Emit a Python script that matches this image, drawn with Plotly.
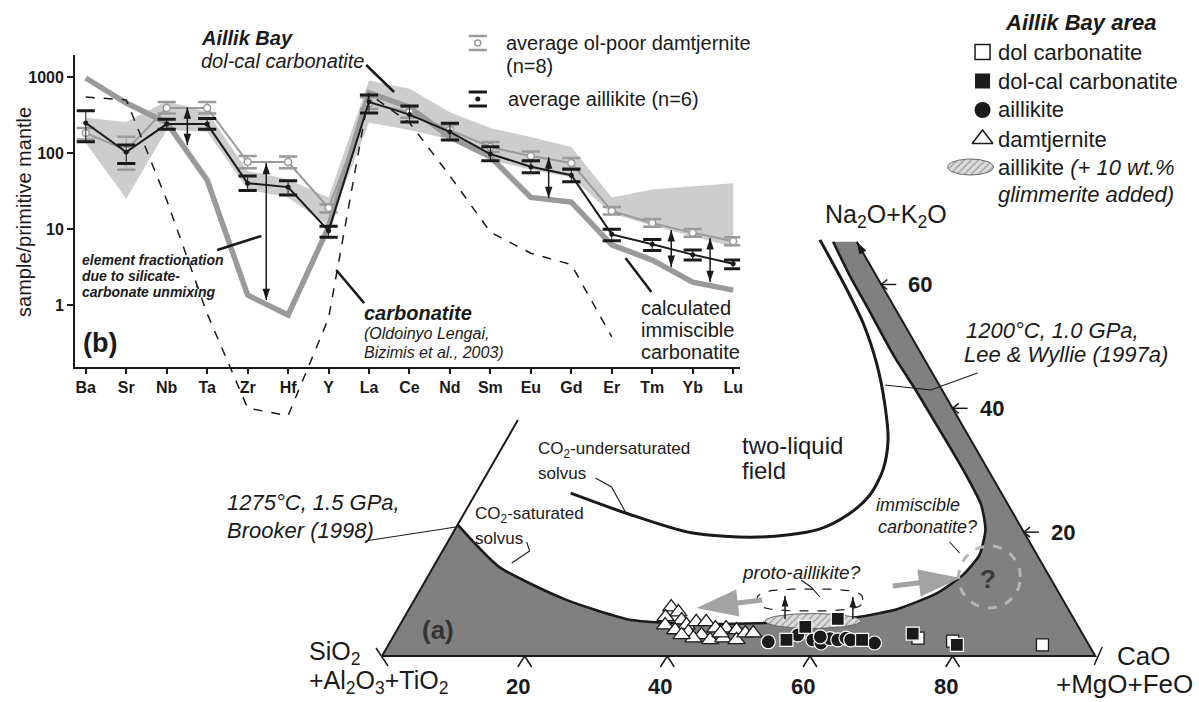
import math
import numpy as np
import plotly.graph_objects as go

W, H = 1199, 702
FONT = "Liberation Sans, Arial, Helvetica, sans-serif"
INK = "#1a1a1a"
GREY_FIELD = "#808080"
GREY_LINE = "#9a9a9a"
GREY_SHADE = "#cdcdcd"

# ---------------- (b) spider diagram data (sample / primitive mantle) ----------------
elements = ["Ba", "Sr", "Nb", "Ta", "Zr", "Hf", "Y", "La", "Ce", "Nd", "Sm", "Eu", "Gd", "Er", "Tm", "Yb", "Lu"]
aillikite_avg = [248, 103, 240, 240, 40, 35.6, 9.5, 470, 320, 190, 97, 66, 51, 8.5, 6.3, 4.6, 3.5]
aillikite_hi = [360, 127, 279, 285, 50, 43, 10.9, 580, 415, 246, 121, 79, 61, 9.9, 7.3, 5.3, 3.9]
aillikite_lo = [141, 73, 205, 205, 32, 28, 7.8, 335, 255, 148, 79, 55, 42, 7.0, 5.2, 3.9, 3.0]
damtjernite_avg = [183, 109, 390, 390, 76, 76, 18.9, 455, 345, 200, 120, 91, 74, 17.3, 12, 8.9, 6.9]
damtjernite_hi = [213, 163, 470, 470, 91, 90, 21, 540, 410, 235, 140, 105, 86, 19.5, 13.5, 10, 7.8]
damtjernite_lo = [150, 60, 330, 330, 63, 63, 16.5, 380, 290, 170, 103, 78, 63, 15.5, 10.7, 7.9, 6.1]
range_hi = [290, 255, 480, 350, 58, 45, 26, 900, 700, 345, 213, 162, 120, 26, 33, 36, 40]
range_lo = [135, 25, 200, 190, 33, 26, 11, 250, 200, 150, 81, 60, 48, 16, 11, 8, 5.8]
calc_carbonatite = [970, 455, 250, 44, 1.35, 0.74, 10.6, 620, 400, 162, 89, 26, 22.6, 6.2, 3.9, 2.0, 1.57]
lengai_carbonatite = [545, 500, 24, 0.77, 0.044, 0.035, 0.67, 600, 250, 50, 9.1, 4.8, 3.4, 0.38, None, None, None]
# double arrows: (element position, upper value, lower value)
spider_arrows = [(2.51, 400, 127), (4.46, 74, 1.16), (11.44, 88, 25.5), (14.47, 9.7, 3.16), (15.43, 7.6, 2.0)]

# ---------------- (a) ternary data: C = CaO+MgO+FeO, N = Na2O+K2O (fractions) ----------------
damt_C = [0.366, 0.380, 0.366, 0.391, 0.372, 0.402, 0.413, 0.427, 0.390, 0.410, 0.445,
          0.460, 0.476, 0.431, 0.447, 0.464, 0.484, 0.491, 0.502, 0.422, 0.456, 0.403]
damt_N = [0.079, 0.071, 0.063, 0.058, 0.050, 0.050, 0.055, 0.055, 0.042, 0.039, 0.045,
          0.045, 0.042, 0.034, 0.026, 0.029, 0.026, 0.037, 0.037, 0.029, 0.037, 0.034]
aill_C = [0.530, 0.591, 0.605, 0.614, 0.626, 0.636, 0.644, 0.680, 0.566, 0.599]
aill_N = [0.023, 0.026, 0.021, 0.028, 0.026, 0.029, 0.026, 0.021, 0.034, 0.031]
dolcal_C = [0.554, 0.570, 0.609, 0.660, 0.726, 0.797]
dolcal_N = [0.026, 0.047, 0.060, 0.026, 0.036, 0.018]
dol_C = [0.737, 0.788, 0.917]
dol_N = [0.029, 0.024, 0.018]
# CO2-saturated solvus (Brooker 1998) - boundary of grey one-liquid field
sat_C = [0.0, 0.092, 0.212, 0.321, 0.418, 0.501, 0.582, 0.636, 0.685, 0.728, 0.749, 0.756,
         0.744, 0.718, 0.673, 0.632, 0.583, 0.533, 0.474, 0.403, 0.347, 0.298]
sat_N = [0.212, 0.144, 0.091, 0.058, 0.052, 0.053, 0.058, 0.063, 0.076, 0.102, 0.131, 0.163,
         0.204, 0.244, 0.292, 0.333, 0.381, 0.430, 0.486, 0.559, 0.616, 0.669]
# CO2-undersaturated solvus (Lee & Wyllie 1997a)
unsat_C = [0.278, 0.349, 0.408, 0.459, 0.502, 0.535, 0.552, 0.554, 0.539, 0.509, 0.431, 0.334, 0.226, 0.133]
unsat_N = [0.672, 0.599, 0.535, 0.470, 0.406, 0.349, 0.301, 0.260, 0.228, 0.204, 0.192, 0.199, 0.231, 0.263]
edge_top_N = 0.669
left_edge_top_N = 0.381
bottom_ticks = [20, 40, 60, 80]
right_ticks = [20, 40, 60]
glim_center = (0.576, 0.0565)
proto_center = (0.5548, 0.0905)
imm_center = (0.7879, 0.1276)

# ---------------- geometry helpers ----------------
T_X0, T_Y0, T_SIDE = 383, 656, 715          # pixel position of SiO2 corner, side length
PX = 1.0 / T_SIDE
S3 = math.sqrt(3) / 2


def tern(C, N):
    C = np.asarray(C, dtype=float)
    N = np.asarray(N, dtype=float)
    return C + N / 2.0, N * S3


fig = go.Figure()
XY = dict(xaxis="x", yaxis="y", hoverinfo="skip", showlegend=False)
SP = dict(xaxis="x2", yaxis="y2", hoverinfo="skip", showlegend=False)
PXA = dict(xaxis="x4", yaxis="y4", hoverinfo="skip", showlegend=False)

# ===== ternary =====
gx, gy = tern([0] + sat_C + [1 - edge_top_N, 1, 0], [0] + sat_N + [edge_top_N, 0, 0])
fig.add_trace(go.Scatter(x=gx, y=gy, fill="toself", fillcolor=GREY_FIELD, mode="lines",
                         line=dict(width=0), **XY))
sx, sy = tern(sat_C, sat_N)
fig.add_trace(go.Scatter(x=sx, y=sy, mode="lines", line=dict(color=INK, width=2.6, shape="spline", smoothing=0.6), **XY))
ux, uy = tern(unsat_C, unsat_N)
fig.add_trace(go.Scatter(x=ux, y=uy, mode="lines", line=dict(color=INK, width=3, shape="spline", smoothing=0.8), **XY))
# triangle edges
ex, ey = tern([0, 1, 1 - edge_top_N, None, 0, 0], [0, 0, edge_top_N, None, 0, left_edge_top_N])
fig.add_trace(go.Scatter(x=ex, y=ey, mode="lines", line=dict(color=INK, width=2), connectgaps=False, **XY))
# arrow head at the top of the Na2O+K2O edge (pointing along the edge)
ahx, ahy = tern(1 - edge_top_N, edge_top_N)
fig.add_trace(go.Scatter(x=[float(ahx)], y=[float(ahy)], mode="markers",
                         marker=dict(symbol="arrow", size=13, angle=-30, color=INK), **XY))

# ticks
tx, ty = [], []
for t in bottom_ticks:
    bx, by = tern(t / 100, 0)
    tx += [bx - 7 * PX, bx, bx + 7 * PX, None]
    ty += [by - 11 * PX, by, by - 11 * PX, None]
for t in right_ticks:
    rx, ry = tern(1 - t / 100, t / 100)
    tx += [rx + 6 * PX, rx, rx + 6 * PX, None, rx, rx + 15 * PX, None]
    ty += [ry + 5 * PX, ry, ry - 5 * PX, None, ry, ry, None]
c0x, c0y = tern(0, 0)
tx += [c0x - 6 * PX, c0x + 6 * PX, None]
ty += [c0y + 8 * PX, c0y - 10 * PX, None]
c1x, c1y = tern(1, 0)
tx += [c1x - 1 * PX, c1x + 7 * PX, None]
ty += [c1y - 9 * PX, c1y + 9 * PX, None]
fig.add_trace(go.Scatter(x=tx, y=ty, mode="lines", line=dict(color=INK, width=1.5), connectgaps=False, **XY))

th = np.linspace(0, 2 * np.pi, 90)
# hatched aillikite + glimmerite field
hx0, hy0 = tern(*glim_center)
fig.add_trace(go.Scatter(x=hx0 + 48 * PX * np.cos(th), y=hy0 + 7.5 * PX * np.sin(th), mode="lines",
                         fill="toself", fillcolor="#d8d8d8",
                         fillpattern=dict(shape="/", fgcolor="#555555", bgcolor="#dcdcdc", size=5, solidity=0.25),
                         line=dict(color="#666666", width=1), **XY))
# proto-aillikite dashed outline
px0, py0 = tern(*proto_center)
pe = 2 / 3.0
fig.add_trace(go.Scatter(x=px0 + 53 * PX * np.sign(np.cos(th)) * np.abs(np.cos(th)) ** pe,
                         y=py0 + 11 * PX * np.sign(np.sin(th)) * np.abs(np.sin(th)) ** pe,
                         mode="lines", line=dict(color=INK, width=1.2, dash="dash"), **XY))
# immiscible carbonatite dashed circle
ix0, iy0 = tern(*imm_center)
fig.add_trace(go.Scatter(x=ix0 + 31 * PX * np.cos(th), y=iy0 + 31 * PX * np.sin(th), mode="lines",
                         line=dict(color="#b5b5b5", width=3, dash="dash"), **XY))

# samples
x_, y_ = tern(damt_C, damt_N)
fig.add_trace(go.Scatter(x=x_, y=y_, mode="markers",
                         marker=dict(symbol="triangle-up", size=15, color="white", line=dict(color=INK, width=1.3)), **XY))
x_, y_ = tern(dol_C, dol_N)
fig.add_trace(go.Scatter(x=x_, y=y_, mode="markers",
                         marker=dict(symbol="square", size=12, color="white", line=dict(color=INK, width=1.3)), **XY))
x_, y_ = tern(aill_C, aill_N)
fig.add_trace(go.Scatter(x=x_, y=y_, mode="markers",
                         marker=dict(symbol="circle", size=14, color=INK, line=dict(color="white", width=1.2)), **XY))
x_, y_ = tern(dolcal_C, dolcal_N)
fig.add_trace(go.Scatter(x=x_, y=y_, mode="markers",
                         marker=dict(symbol="square", size=13, color=INK, line=dict(color="white", width=1.2)), **XY))

# ===== spider diagram =====
xi = list(range(len(elements)))
fig.add_trace(go.Scatter(x=xi + xi[::-1], y=range_hi + range_lo[::-1], fill="toself", fillcolor=GREY_SHADE,
                         mode="lines", line=dict(width=0), **SP))
fig.add_trace(go.Scatter(x=xi, y=calc_carbonatite, mode="lines", line=dict(color=GREY_LINE, width=5.5), **SP))
fig.add_trace(go.Scatter(
    x=xi, y=damtjernite_avg, mode="lines", line=dict(color=GREY_LINE, width=2),
    error_y=dict(type="data", symmetric=False,
                 array=[h - v for h, v in zip(damtjernite_hi, damtjernite_avg)],
                 arrayminus=[v - l for v, l in zip(damtjernite_avg, damtjernite_lo)],
                 color=GREY_LINE, thickness=1, width=0), **SP))
fig.add_trace(go.Scatter(x=xi + xi, y=damtjernite_hi + damtjernite_lo, mode="markers",
                         marker=dict(symbol="line-ew", size=13, line=dict(color=GREY_LINE, width=2.5)), **SP))
fig.add_trace(go.Scatter(x=xi, y=damtjernite_avg, mode="markers",
                         marker=dict(symbol="circle", size=7, color="white", line=dict(color=GREY_LINE, width=1.5)), **SP))
fig.add_trace(go.Scatter(
    x=xi, y=aillikite_avg, mode="lines", line=dict(color=INK, width=2),
    error_y=dict(type="data", symmetric=False,
                 array=[h - v for h, v in zip(aillikite_hi, aillikite_avg)],
                 arrayminus=[v - l for v, l in zip(aillikite_avg, aillikite_lo)],
                 color=INK, thickness=1, width=0), **SP))
fig.add_trace(go.Scatter(x=xi + xi, y=aillikite_hi + aillikite_lo, mode="markers",
                         marker=dict(symbol="line-ew", size=13, line=dict(color=INK, width=3)), **SP))
fig.add_trace(go.Scatter(x=xi, y=aillikite_avg, mode="markers", marker=dict(size=5, color=INK), **SP))
# leader lines inside spider diagram
lead_x = [6.93, 7.62, None, 3.25, 4.34, None, 6.19, 6.88, None, 13.34, 13.98]
lead_y = [1438, 635, None, 5.3, 8.1, None, 2.89, 1.06, None, 4.15, 1.48]
fig.add_trace(go.Scatter(x=lead_x, y=lead_y, mode="lines", line=dict(color=INK, width=2.5), connectgaps=False, **SP))
# double-headed fractionation arrows
arx, ary, hx, hy, hang = [], [], [], [], []
for xa, top, bot in spider_arrows:
    arx += [xa, xa, None]
    ary += [bot, top, None]
    hx += [xa, xa]
    hy += [bot, top]
    hang += [180, 0]
fig.add_trace(go.Scatter(x=arx, y=ary, mode="lines", line=dict(color=INK, width=1.5), connectgaps=False, **SP))
fig.add_trace(go.Scatter(x=hx, y=hy, mode="markers",
                         marker=dict(symbol="arrow", size=12, angle=hang, color=INK), **SP))
# Oldoinyo Lengai carbonatite (extends below the axis)
fig.add_trace(go.Scatter(x=xi, y=lengai_carbonatite, mode="lines", line=dict(color=INK, width=1.5, dash="dash"),
                         connectgaps=False, xaxis="x3", yaxis="y3", hoverinfo="skip", showlegend=False))

# ===== legends, trend arrows & leader lines (pixel overlay) =====
# spider legend icons
fig.add_trace(go.Scatter(x=[479, 479], y=[36, 50], mode="markers",
                         marker=dict(symbol="line-ew", size=13, line=dict(color=GREY_LINE, width=2.5)), **PXA))
fig.add_trace(go.Scatter(x=[479], y=[43], mode="markers",
                         marker=dict(size=6, color="white", line=dict(color=GREY_LINE, width=1.5)), **PXA))
fig.add_trace(go.Scatter(x=[479, 479], y=[92, 106], mode="markers",
                         marker=dict(symbol="line-ew", size=13, line=dict(color=INK, width=3)), **PXA))
fig.add_trace(go.Scatter(x=[479], y=[99], mode="markers", marker=dict(size=5, color=INK), **PXA))
# Aillik Bay area legend icons
fig.add_trace(go.Scatter(x=[985], y=[52], mode="markers",
                         marker=dict(symbol="square", size=15, color="white", line=dict(color=INK, width=1.5)), **PXA))
fig.add_trace(go.Scatter(x=[985], y=[81], mode="markers",
                         marker=dict(symbol="square", size=15, color=INK), **PXA))
fig.add_trace(go.Scatter(x=[985], y=[110], mode="markers",
                         marker=dict(symbol="circle", size=16, color=INK), **PXA))
fig.add_trace(go.Scatter(x=[985], y=[139], mode="markers",
                         marker=dict(symbol="triangle-up", size=18, color="white", line=dict(color=INK, width=1.5)), **PXA))
fig.add_trace(go.Scatter(x=973 + 23 * np.cos(th), y=167 + 8 * np.sin(th), mode="lines", fill="toself",
                         fillcolor="#d8d8d8",
                         fillpattern=dict(shape="/", fgcolor="#555555", bgcolor="#dcdcdc", size=5, solidity=0.25),
                         line=dict(color="#666666", width=1), **PXA))
# trend arrows: (tail, tip, colour, line width, head size)
trend_arrows = [((764, 600), (698, 608), "#a3a3a3", 5, 44),
                ((895, 586), (963, 578), "#a3a3a3", 5, 44),
                ((787, 619), (787, 596), INK, 1.5, 11),
                ((855, 619), (855, 597), INK, 1.5, 11)]
for tail, tip, col, wdt, hs in trend_arrows:
    dx, dy = tip[0] - tail[0], tip[1] - tail[1]
    ln = math.hypot(dx, dy)
    cut = 0.3 * hs if wdt > 2 else 0
    endx, endy = tip[0] - dx / ln * cut, tip[1] - dy / ln * cut
    fig.add_trace(go.Scatter(x=[tail[0], endx], y=[tail[1], endy], mode="lines",
                             line=dict(color=col, width=wdt), **PXA))
    fig.add_trace(go.Scatter(x=[tip[0]], y=[tip[1]], mode="markers",
                             marker=dict(symbol="arrow", size=hs, angle=math.degrees(math.atan2(dx, -dy)),
                                         color=col), **PXA))
# leader lines of the ternary labels
leaders = [[(887, 385), (933, 390), (980, 373)],
           [(597, 478), (613, 487), (627, 512)],
           [(528, 542), (531, 551), (513, 563)],
           [(952, 542), (962, 553)],
           [(803, 580), (813, 587), (822, 597)],
           [(366, 541), (457, 527)]]
lx, ly = [], []
for seg in leaders:
    lx += [p[0] for p in seg] + [None]
    ly += [p[1] for p in seg] + [None]
fig.add_trace(go.Scatter(x=lx, y=ly, mode="lines", line=dict(color=INK, width=1.1), connectgaps=False, **PXA))

# ===== annotations (text) =====
ann = []


def txt(x, y, s, size, bold=False, italic=False, anchor="left", color=INK, angle=0):
    if bold:
        s = "<b>" + s + "</b>"
    if italic:
        s = "<i>" + s + "</i>"
    ann.append(dict(x=x / W, y=1 - y / H, xref="paper", yref="paper", text=s, showarrow=False,
                    xanchor=anchor, yanchor="middle", textangle=angle,
                    font=dict(family=FONT, size=size, color=color)))


# spider texts
txt(200, 38, "Aillik Bay", 20, bold=True, italic=True)
txt(200, 61, "dol-cal carbonatite", 20, italic=True)
txt(505, 43, "average ol-poor damtjernite", 20)
txt(505, 66, "(n=8)", 20)
txt(507, 99, "average aillikite (n=6)", 20)
txt(80, 260, "element fractionation", 14, bold=True, italic=True)
txt(80, 276, "due to silicate-", 14, bold=True, italic=True)
txt(80, 292, "carbonate unmixing", 14, bold=True, italic=True)
txt(363, 313, "carbonatite", 20, bold=True, italic=True)
txt(363, 333, "(Oldoinyo Lengai,", 16, italic=True)
txt(363, 352, "Bizimis et al., 2003)", 16, italic=True)
txt(641, 308, "calculated", 20)
txt(641, 330, "immiscible", 20)
txt(641, 352, "carbonatite", 20)
txt(81, 343, "(b)", 27, bold=True)
txt(24, 212, "sample/primitive mantle", 20, anchor="center", angle=-90)

# ternary texts
txt(1006, 22, "Aillik Bay area", 22, bold=True, italic=True)
txt(998, 52, "dol carbonatite", 22)
txt(998, 81, "dol-cal carbonatite", 22)
txt(998, 110, "aillikite", 22)
txt(998, 139, "damtjernite", 22)
txt(998, 167, "aillikite <i>(+ 10 wt.%</i>", 22)
txt(998, 194, "glimmerite added)", 22, italic=True)
txt(888, 216, "Na<sub>2</sub>O+K<sub>2</sub>O", 25, anchor="center")
txt(966, 330, "1200°C, 1.0 GPa,", 22, italic=True)
txt(964, 354, "Lee & Wyllie (1997a)", 22, italic=True)
txt(742, 445, "two-liquid", 24)
txt(742, 471, "field", 24)
txt(537, 450, "CO<sub>2</sub>-undersaturated", 17)
txt(537, 473, "solvus", 17)
txt(474, 515, "CO<sub>2</sub>-saturated", 17)
txt(474, 538, "solvus", 17)
txt(226, 502, "1275°C, 1.5 GPa,", 22, italic=True)
txt(226, 530, "Brooker (1998)", 22, italic=True)
txt(742, 572, "proto-aillikite?", 19, italic=True)
txt(876, 505, "immiscible", 18, italic=True)
txt(878, 527, "carbonatite?", 18, italic=True)
txt(990, 579, "?", 26, bold=True, anchor="center", color="#3a3a3a")
txt(421, 630, "(a)", 26, bold=True, color="#333333")
txt(308, 653, "SiO<sub>2</sub>", 25)
txt(308, 682, "+Al<sub>2</sub>O<sub>3</sub>+TiO<sub>2</sub>", 25)
txt(1118, 656, "CaO", 26)
txt(1198, 684, "+MgO+FeO", 26, anchor="right")

# ternary tick labels
for t in bottom_ticks:
    bx, by = tern(t / 100, 0)
    ann.append(dict(x=float(bx), y=float(by), xref="x", yref="y", text="<b>%d</b>" % t, showarrow=False,
                    xanchor="center", yanchor="middle", xshift=-7, yshift=-30,
                    font=dict(family=FONT, size=22, color=INK)))
for t in right_ticks:
    rx, ry = tern(1 - t / 100, t / 100)
    ann.append(dict(x=float(rx), y=float(ry), xref="x", yref="y", text="<b>%d</b>" % t, showarrow=False,
                    xanchor="left", yanchor="middle", xshift=25, yshift=0,
                    font=dict(family=FONT, size=22, color=INK)))

# ===== layout =====
sp_x0, sp_x1 = 75, 742       # pixel extent of spider x axis
sp_y0, sp_y1 = 367, 55       # pixel extent of spider y axis
sp_px_idx = (735 - 86) / 16.0
sp_px_dec = 76.0
y_bottom_log = -(sp_y0 - 305) / sp_px_dec
y_top_log = 3 + (77 - sp_y1) / sp_px_dec
ext_y0 = 430
fig.update_layout(
    width=W, height=H, margin=dict(l=0, r=0, t=0, b=0), autosize=False,
    paper_bgcolor="white", plot_bgcolor="rgba(0,0,0,0)", showlegend=False,
    font=dict(family=FONT, color=INK),
    annotations=ann,
    xaxis=dict(domain=[0, 1], range=[-T_X0 / T_SIDE, (W - T_X0) / T_SIDE], visible=False, anchor="y"),
    yaxis=dict(domain=[0, 1], range=[-(H - T_Y0) / T_SIDE, T_Y0 / T_SIDE], visible=False, anchor="x"),
    xaxis2=dict(domain=[sp_x0 / W, sp_x1 / W], anchor="y2",
                range=[(sp_x0 - 86) / sp_px_idx, 16 + (sp_x1 - 735) / sp_px_idx],
                tickvals=xi, ticktext=["<b>%s</b>" % e for e in elements],
                tickfont=dict(family=FONT, size=16, color=INK),
                ticks="outside", ticklen=5, tickwidth=1.5, tickcolor=INK,
                showline=True, linecolor=INK, linewidth=1.5, showgrid=False, zeroline=False),
    yaxis2=dict(domain=[1 - sp_y0 / H, 1 - sp_y1 / H], anchor="x2", type="log",
                range=[y_bottom_log, y_top_log],
                tickvals=[1, 10, 100, 1000], ticktext=["<b>1</b>", "<b>10</b>", "<b>100</b>", "<b>1000</b>"],
                tickfont=dict(family=FONT, size=16, color=INK),
                ticks="outside", ticklen=6, tickwidth=1.5, tickcolor=INK,
                showline=True, linecolor=INK, linewidth=1.5, showgrid=False, zeroline=False),
    xaxis3=dict(domain=[sp_x0 / W, sp_x1 / W], anchor="y3",
                range=[(sp_x0 - 86) / sp_px_idx, 16 + (sp_x1 - 735) / sp_px_idx], visible=False),
    yaxis3=dict(domain=[1 - ext_y0 / H, 1 - sp_y1 / H], anchor="x3", type="log",
                range=[-(ext_y0 - 305) / sp_px_dec, y_top_log], visible=False),
    xaxis4=dict(domain=[0, 1], range=[0, W], visible=False, anchor="y4"),
    yaxis4=dict(domain=[0, 1], range=[H, 0], visible=False, anchor="x4"),
)

fig.write_html("out.html")
